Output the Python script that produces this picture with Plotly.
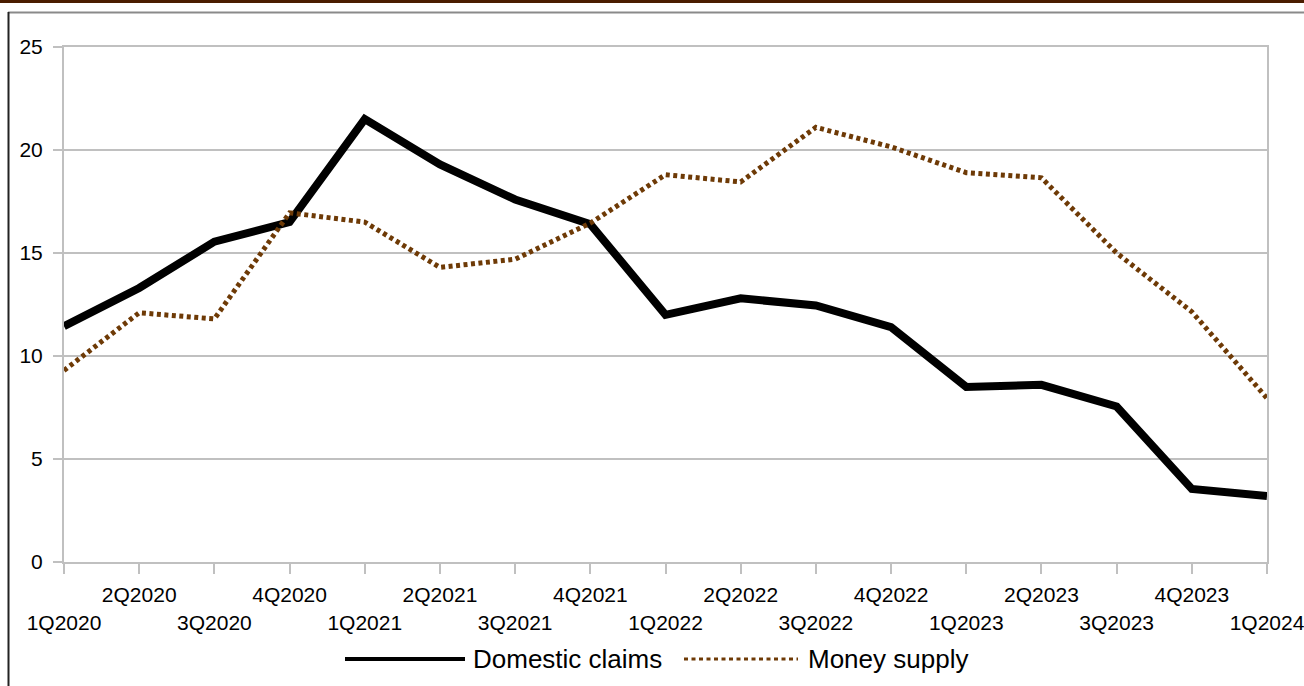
import plotly.graph_objects as go

quarters = ["1Q2020", "2Q2020", "3Q2020", "4Q2020",
            "1Q2021", "2Q2021", "3Q2021", "4Q2021",
            "1Q2022", "2Q2022", "3Q2022", "4Q2022",
            "1Q2023", "2Q2023", "3Q2023", "4Q2023",
            "1Q2024"]
domestic_claims = [11.45, 13.3, 15.55, 16.5, 21.5, 19.3, 17.6, 16.4,
                   12.0, 12.8, 12.45, 11.4, 8.5, 8.6, 7.55, 3.55, 3.2]
money_supply = [9.3, 12.1, 11.8, 16.95, 16.5, 14.3, 14.7, 16.45,
                18.8, 18.45, 21.1, 20.15, 18.9, 18.65, 15.0, 12.15, 7.95]
series_names = ["Domestic claims", "Money supply"]
y_ticks = [0, 5, 10, 15, 20, 25]

BLACK = "#000000"
BROWN = "#6e3a06"
FONT = "Liberation Sans, Arial, sans-serif"

# staggered tick labels: even positions on lower row
tick_text = [("<br>" + q) if i % 2 == 0 else q for i, q in enumerate(quarters)]

fig = go.Figure()
fig.add_trace(go.Scatter(x=quarters, y=domestic_claims, mode="lines",
                         name=series_names[0],
                         line=dict(color=BLACK, width=8), showlegend=False))
fig.add_trace(go.Scatter(x=quarters, y=money_supply, mode="lines",
                         name=series_names[1],
                         line=dict(color=BROWN, width=5, dash="4px,3.5px"),
                         showlegend=False))

W, H = 1304, 686
L, R, T, B = 64, 37, 47, 124
pw, ph = W - L - R, H - T - B


def px_x(p):
    return (p - L) / pw


def px_y(p):
    return (H - B - p) / ph


shapes = [
    # top brown bar
    dict(type="rect", xref="paper", yref="paper", x0=px_x(-5), x1=px_x(W + 5),
         y0=px_y(3), y1=px_y(-5), fillcolor="#4a1c00", line=dict(width=0), layer="above"),
    # outer frame
    dict(type="line", xref="paper", yref="paper", x0=px_x(8), x1=px_x(W + 5),
         y0=px_y(12.5), y1=px_y(12.5), line=dict(color="#8a8a8a", width=2)),
    dict(type="line", xref="paper", yref="paper", x0=px_x(8.5), x1=px_x(8.5),
         y0=px_y(12), y1=px_y(H + 5), line=dict(color="#222222", width=2)),
    # legend samples
    dict(type="line", xref="paper", yref="paper", x0=px_x(345), x1=px_x(465),
         y0=px_y(659), y1=px_y(659), line=dict(color=BLACK, width=4)),
    dict(type="line", xref="paper", yref="paper", x0=px_x(684), x1=px_x(798),
         y0=px_y(659), y1=px_y(659), line=dict(color=BROWN, width=3, dash="4px,3.5px")),
]

annotations = [
    dict(xref="paper", yref="paper", x=px_x(471), y=px_y(659), text=series_names[0],
         showarrow=False, xanchor="left", yanchor="middle",
         font=dict(family=FONT, size=26, color="black")),
    dict(xref="paper", yref="paper", x=px_x(806), y=px_y(659), text=series_names[1],
         showarrow=False, xanchor="left", yanchor="middle",
         font=dict(family=FONT, size=26, color="black")),
]

fig.update_layout(
    width=W, height=H, autosize=False,
    margin=dict(l=L, r=R, t=T, b=B, pad=0, autoexpand=False),
    paper_bgcolor="white", plot_bgcolor="white",
    font=dict(family=FONT, size=21, color="black"),
    shapes=shapes, annotations=annotations,
    showlegend=False,
)
fig.update_xaxes(
    type="category", range=[0, len(quarters) - 1], automargin=False,
    tickvals=quarters, ticktext=tick_text, tickangle=0,
    showgrid=False, zeroline=False,
    showline=True, linecolor="#c0c0c0", linewidth=2, mirror=True,
    ticks="outside", ticklen=10, tickcolor="#c0c0c0", tickwidth=2,
    ticklabelstandoff=3,
    tickfont=dict(family=FONT, size=21, color="black"),
)
fig.update_yaxes(
    range=[0, 25], tickvals=y_ticks, automargin=False,
    showgrid=True, gridcolor="#c0c0c0", gridwidth=1.5, zeroline=False,
    showline=True, linecolor="#c0c0c0", linewidth=2, mirror=True,
    ticks="outside", ticklen=9, tickcolor="#c0c0c0", tickwidth=2,
    ticklabelstandoff=6,
    tickfont=dict(family=FONT, size=21, color="black"),
)

fig.write_html("out.html",
               config={"displayModeBar": False},
               post_script="document.body.style.margin='0';document.body.style.overflow='hidden';")
